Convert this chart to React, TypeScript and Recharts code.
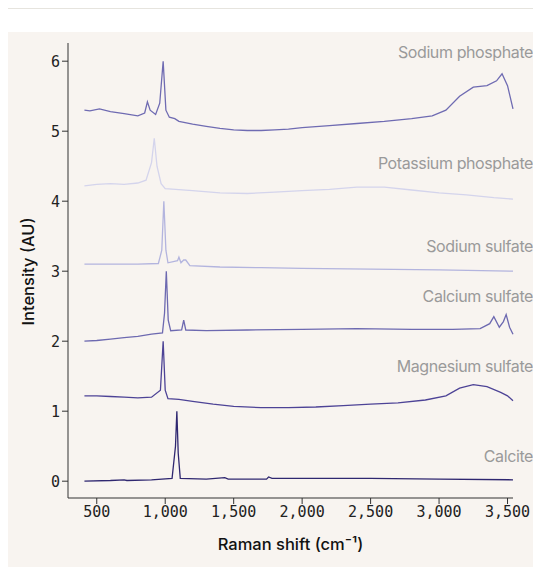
import { LineChart, Line, XAxis, YAxis } from "recharts";

const sodiumPhosphate = [
  [410, 5.3], [450, 5.29], [520, 5.32], [600, 5.28], [700, 5.25], [800, 5.22], [850, 5.26], [870, 5.42], [890, 5.3],
  [930, 5.24], [960, 5.4], [985, 6.0], [1005, 5.3], [1030, 5.2], [1070, 5.18], [1100, 5.14], [1200, 5.1],
  [1300, 5.07], [1400, 5.04], [1500, 5.02], [1600, 5.01], [1700, 5.01], [1800, 5.02], [1900, 5.03],
  [2000, 5.05], [2200, 5.08], [2400, 5.11], [2600, 5.14], [2800, 5.18], [2950, 5.22], [3050, 5.3],
  [3150, 5.5], [3250, 5.63], [3350, 5.65], [3420, 5.72], [3460, 5.82], [3500, 5.65], [3540, 5.32],
];
const potassiumPhosphate = [
  [410, 4.22], [500, 4.24], [600, 4.25], [700, 4.24], [800, 4.26], [860, 4.3], [900, 4.55], [920, 4.9],
  [940, 4.5], [970, 4.25], [1000, 4.18], [1200, 4.15], [1400, 4.12], [1600, 4.11], [1800, 4.13],
  [2000, 4.15], [2200, 4.17], [2400, 4.2], [2600, 4.2], [2800, 4.16], [3000, 4.12], [3200, 4.09],
  [3400, 4.05], [3540, 4.03],
];
const sodiumSulfate = [
  [410, 3.1], [600, 3.1], [800, 3.1], [950, 3.11], [975, 3.3], [990, 4.0], [1005, 3.3], [1020, 3.12],
  [1090, 3.15], [1100, 3.2], [1115, 3.12], [1135, 3.16], [1150, 3.16], [1180, 3.08], [1400, 3.06],
  [1700, 3.05], [2000, 3.04], [2500, 3.03], [3000, 3.02], [3540, 3.0],
];
const calciumSulfate = [
  [410, 2.0], [500, 2.01], [600, 2.03], [700, 2.05], [800, 2.07], [900, 2.1], [980, 2.12], [995, 2.4],
  [1008, 3.0], [1022, 2.3], [1040, 2.15], [1120, 2.16], [1135, 2.3], [1150, 2.16], [1300, 2.15],
  [1600, 2.16], [2000, 2.17], [2400, 2.18], [2800, 2.17], [3100, 2.17], [3300, 2.18], [3370, 2.25],
  [3400, 2.35], [3440, 2.2], [3470, 2.28], [3490, 2.38], [3515, 2.2], [3540, 2.1],
];
const magnesiumSulfate = [
  [410, 1.22], [500, 1.22], [600, 1.21], [700, 1.2], [800, 1.19], [900, 1.2], [965, 1.3], [985, 2.0],
  [1000, 1.3], [1020, 1.18], [1100, 1.17], [1200, 1.14], [1350, 1.1], [1500, 1.07], [1700, 1.05],
  [1900, 1.05], [2100, 1.06], [2300, 1.08], [2500, 1.1], [2700, 1.12], [2900, 1.16], [3050, 1.22],
  [3150, 1.33], [3250, 1.38], [3350, 1.35], [3450, 1.27], [3500, 1.22], [3540, 1.15],
];
const calcite = [
  [410, 0.0], [600, 0.01], [700, 0.02], [720, 0.01], [900, 0.02], [1050, 0.04], [1075, 0.5],
  [1085, 1.0], [1095, 0.4], [1110, 0.04], [1300, 0.03], [1435, 0.05], [1460, 0.03], [1740, 0.03],
  [1755, 0.06], [1780, 0.04], [2000, 0.04], [2500, 0.04], [3000, 0.03], [3540, 0.02],
];

const seriesNames = ["Sodium phosphate", "Potassium phosphate", "Sodium sulfate", "Calcium sulfate", "Magnesium sulfate", "Calcite"];
const seriesData = [sodiumPhosphate, potassiumPhosphate, sodiumSulfate, calciumSulfate, magnesiumSulfate, calcite];
const colors = ["#6f6bb2", "#d4d4ec", "#b3b4de", "#6d69b0", "#4d4396", "#2f2770"];
const labelTops = [10, 121, 204, 254, 324, 414];

const xTicks = [500, 1000, 1500, 2000, 2500, 3000, 3500];
const yTicks = [0, 1, 2, 3, 4, 5, 6];

const tickStyle = { fill: "#222", fontSize: 15, fontFamily: "DejaVu Sans Mono" };

export default function App() {
  return (
    <div style={{ width: 533, borderTop: "1px solid #e6e4de" }}>
      <div style={{ marginTop: 23, position: "relative", width: 533, height: 535, background: "#f8f4f0" }}>
        <LineChart width={533} height={535} margin={{ top: 11, right: 28, bottom: 39, left: 20 }}>
          <XAxis
            type="number"
            dataKey="x"
            domain={[290, 3540]}
            ticks={xTicks}
            tickFormatter={(v) => v.toLocaleString("en-US")}
            tick={tickStyle}
            stroke="#333"
            tickSize={6}
            allowDuplicatedCategory={false}
            label={{ value: "Raman shift (cm⁻¹)", position: "insideBottom", offset: -22, fill: "#111", fontSize: 16.5, fontFamily: "Inter", fontWeight: 500 }}
          />
          <YAxis
            type="number"
            domain={[-0.24, 6.26]}
            ticks={yTicks}
            width={40}
            tick={tickStyle}
            stroke="#333"
            tickSize={6}
            label={{ value: "Intensity (AU)", angle: -90, position: "insideLeft", offset: 0, dy: 55, fill: "#111", fontSize: 16.5, fontFamily: "Inter", fontWeight: 500 }}
          />
          {seriesData.map((d, i) => (
            <Line
              key={seriesNames[i]}
              data={d.map(([x, y]) => ({ x, y }))}
              dataKey="y"
              stroke={colors[i]}
              strokeWidth={1.3}
              dot={false}
              type="linear"
              isAnimationActive={false}
            />
          ))}
        </LineChart>
        {seriesNames.map((n, i) => (
          <div
            key={n}
            style={{ position: "absolute", right: 8, top: labelTops[i], color: "#9a9a9a", fontFamily: "Inter", fontSize: 16, letterSpacing: -0.4 }}
          >
            {n}
          </div>
        ))}
      </div>
    </div>
  );
}
